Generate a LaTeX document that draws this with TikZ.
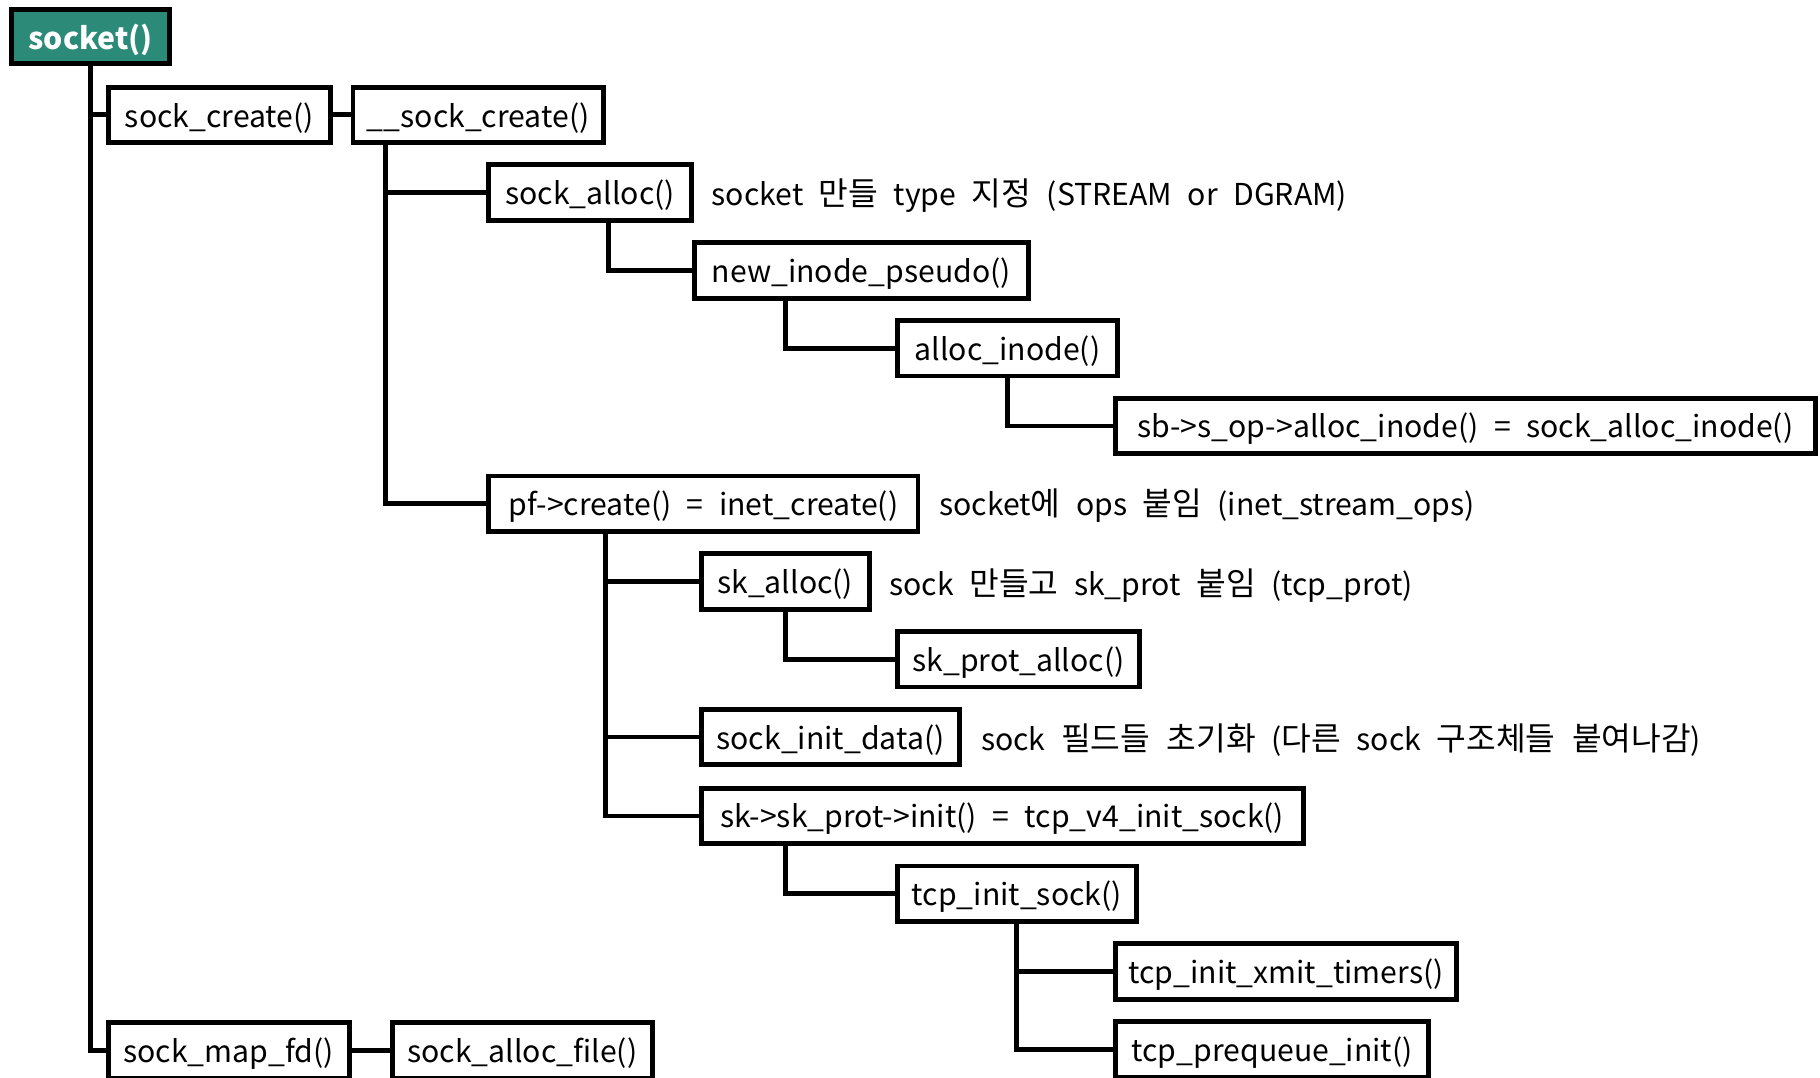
\documentclass[tikz,border=0pt]{standalone}
\usepackage{fontspec}
\setmainfont[WordSpace=2.3]{Noto Sans CJK KR}
\newfontfamily\kr[Scale=1.07,WordSpace=2.3]{Noto Sans CJK KR}
\newcommand{\dn}[1]{\raisebox{-2.5pt}[\height][\depth]{#1}}
\definecolor{tealbox}{HTML}{2B8A78}
\begin{document}
\begin{tikzpicture}[x=1pt,y=-1pt,
  fn/.style={draw=black,line width=4.2pt,rectangle,inner sep=0pt,minimum height=47.8pt,
    anchor=north west,font=\fontsize{26}{30}\selectfont,fill=white},
  note/.style={anchor=west,inner sep=0pt,font=\fontsize{26}{30}\selectfont},
  conn/.style={line width=4.2pt,line join=miter,line cap=butt}]
\useasboundingbox (0,0) rectangle (1568,928);

\node[fn,fill=tealbox,text=white,font=\fontsize{26}{30}\selectfont\bfseries,minimum width=135.8pt,minimum height=46.8pt] (socket) at (8,6) {\dn{socket()}};
\node[fn,minimum width=191.8pt] (sockcreate) at (91,73) {\dn{sock\_create()}};
\node[fn,minimum width=215.8pt] (sc2) at (302,73) {\dn{\_\_sock\_create()}};
\node[fn,minimum width=174.8pt] (sockalloc) at (419,140) {\dn{sock\_alloc()}};
\node[fn,minimum width=287.8pt] (newinode) at (596,207) {\dn{new\_inode\_pseudo()}};
\node[fn,minimum width=189.8pt] (allocinode) at (771,274) {\dn{alloc\_inode()}};
\node[fn,minimum width=602.8pt] (sballoc) at (959,341) {\dn{sb->s\_op->alloc\_inode() = sock\_alloc\_inode()}};
\node[fn,minimum width=369.8pt] (pfcreate) at (419,408) {\dn{pf->create() = inet\_create()}};
\node[fn,minimum width=144.8pt] (skalloc) at (602,475) {\dn{sk\_alloc()}};
\node[fn,minimum width=208.8pt] (skprot) at (771,542) {\dn{sk\_prot\_alloc()}};
\node[fn,minimum width=222.8pt] (sockinit) at (602,609) {\dn{sock\_init\_data()}};
\node[fn,minimum width=518.8pt] (skinit) at (602,677) {\dn{sk->sk\_prot->init() = tcp\_v4\_init\_sock()}};
\node[fn,minimum width=205.8pt] (tcpinit) at (771,744) {\dn{tcp\_init\_sock()}};
\node[fn,minimum width=293.8pt] (xmit) at (959,811) {\dn{tcp\_init\_xmit\_timers()}};
\node[fn,minimum width=269.8pt] (prequeue) at (959,878) {\dn{tcp\_prequeue\_init()}};
\node[fn,minimum width=207.8pt] (sockmap) at (91,879) {\dn{sock\_map\_fd()}};
\node[fn,minimum width=223.8pt] (sockfile) at (336,879) {\dn{sock\_alloc\_file()}};

\node[note] (n1) at (613,166) {\dn{socket {\kr 만들} type {\kr 지정} (STREAM or DGRAM)}};
\node[note] (n2) at (809,433) {\dn{socket{\kr 에} ops {\kr 붙임} (inet\_stream\_ops)}};
\node[note] (n3) at (766,502) {\dn{sock {\kr 만들고} sk\_prot {\kr 붙임} (tcp\_prot)}};
\node[note] (n4) at (845,635) {\dn{sock {\kr 필드들 초기화} ({\kr 다른} sock {\kr 구조체들 붙여나감})}};

% connectors
\draw[conn] (socket.south) |- (sockmap.west);
\draw[conn] (socket.south |- sockcreate.west) -- (sockcreate.west);
\draw[conn] (sockcreate.east) -- (sc2.west);
\draw[conn] (sockmap.east) -- (sockfile.west);

\coordinate (a1) at ([xshift=30pt]sc2.south west);
\draw[conn] (a1) |- (pfcreate.west);
\draw[conn] (a1 |- sockalloc.west) -- (sockalloc.west);

\coordinate (a2) at ([xshift=105pt]sockalloc.south west);
\draw[conn] (a2) |- (newinode.west);

\coordinate (a3) at ([xshift=81pt]newinode.south west);
\draw[conn] (a3) |- (allocinode.west);

\draw[conn] (allocinode.south) |- (sballoc.west);

\coordinate (a4) at ([xshift=103pt]pfcreate.south west);
\draw[conn] (a4) |- (skinit.west);
\draw[conn] (a4 |- skalloc.west) -- (skalloc.west);
\draw[conn] (a4 |- sockinit.west) -- (sockinit.west);

\draw[conn] (skalloc.south) |- (skprot.west);

\coordinate (a5) at ([xshift=75pt]skinit.south west);
\draw[conn] (a5) |- (tcpinit.west);

\draw[conn] (tcpinit.south) |- (prequeue.west);
\draw[conn] (tcpinit.south |- xmit.west) -- (xmit.west);
\end{tikzpicture}
\end{document}
